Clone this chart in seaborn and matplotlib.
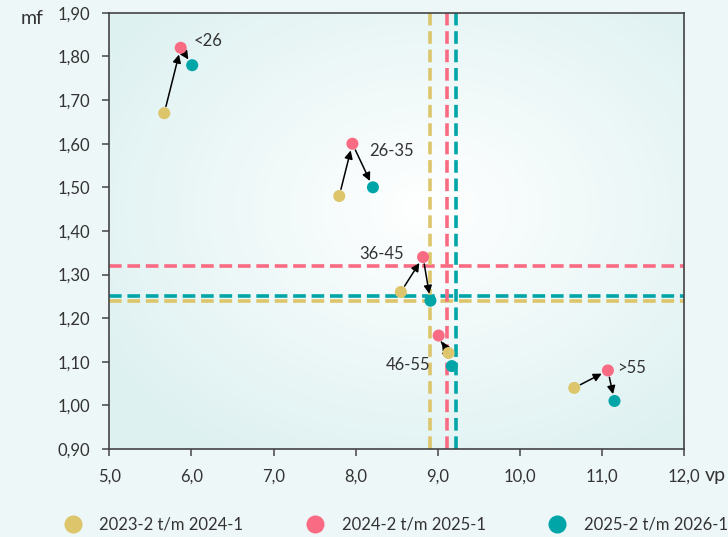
import numpy as np
import pandas as pd
import matplotlib.pyplot as plt
import seaborn as sns
from matplotlib.ticker import FuncFormatter
from matplotlib.lines import Line2D

# data
groups = ["<26", "26-35", "36-45", "46-55", ">55"]
periods = ["2023-2 t/m 2024-1", "2024-2 t/m 2025-1", "2025-2 t/m 2026-1"]
colors = ["#dcc56a", "#f96b82", "#00a5a8"]

vp_2324 = [5.67, 7.80, 8.55, 9.13, 10.66]
mf_2324 = [1.67, 1.48, 1.26, 1.12, 1.04]
vp_2425 = [5.87, 7.96, 8.82, 9.01, 11.07]
mf_2425 = [1.82, 1.60, 1.34, 1.16, 1.08]
vp_2526 = [6.01, 8.21, 8.91, 9.17, 11.15]
mf_2526 = [1.78, 1.50, 1.24, 1.09, 1.01]

# averages (dashed reference lines)
avg_vp = [8.90, 9.11, 9.22]
avg_mf = [1.24, 1.32, 1.25]

# label offsets in points from the middle point, and alignment
label_pos = [(9, 5), (12, -5), (-14, 2), (-6, -21), (6.5, 1.5)]
label_ha = ["left", "left", "right", "right", "left"]

sns.set_style("white")
plt.rcParams['font.family'] = ['Lato', 'DejaVu Sans']
plt.rcParams.update({
    "xtick.bottom": True, "ytick.left": True,
    "xtick.major.size": 5, "ytick.major.size": 5,
    "xtick.major.width": 1.1, "ytick.major.width": 1.1,
    "xtick.color": "#444444", "ytick.color": "#444444",
    "xtick.labelcolor": "#333333", "ytick.labelcolor": "#333333",
    "xtick.major.pad": 9, "ytick.major.pad": 9,
    "xtick.labelsize": 12, "ytick.labelsize": 12,
})

df = pd.DataFrame({
    "vp": vp_2324 + vp_2425 + vp_2526,
    "mf": mf_2324 + mf_2425 + mf_2526,
    "periode": [periods[0]] * 5 + [periods[1]] * 5 + [periods[2]] * 5,
})

bg = "#eef7f8"
fig = plt.figure(figsize=(7.28, 5.37), dpi=100, facecolor=bg)
ax = fig.add_axes([0.150, 0.164, 0.790, 0.812])

# radial gradient background inside the plot area
yy, xx = np.mgrid[0:1:200j, 0:1:200j]
r = np.sqrt(((xx - 0.55) / 0.7) ** 2 + ((yy - 0.45) / 0.7) ** 2)
r = np.clip(r / 0.95, 0, 1)
c_in = np.array([1.0, 1.0, 1.0])
c_out = np.array([0xde, 0xf1, 0xf1]) / 255
img = c_in[None, None, :] * (1 - r[..., None]) + c_out[None, None, :] * r[..., None]
ax.imshow(img, extent=[0, 1, 0, 1], transform=ax.transAxes, aspect="auto", zorder=0)

# dashed reference lines
for i in range(3):
    ax.axhline(avg_mf[i], color=colors[i], lw=2.6, ls=(0, (3.5, 1.6)), zorder=1)
for i in range(3):
    ax.axvline(avg_vp[i], color=colors[i], lw=2.6, ls=(0, (3.5, 1.6)), zorder=1)

# arrows
for i in range(5):
    ax.annotate("", xy=(vp_2425[i], mf_2425[i]), xytext=(vp_2324[i], mf_2324[i]),
                arrowprops=dict(arrowstyle="-|>", color="black", lw=1.1,
                                shrinkA=5, shrinkB=5, mutation_scale=12), zorder=3)
    ax.annotate("", xy=(vp_2526[i], mf_2526[i]), xytext=(vp_2425[i], mf_2425[i]),
                arrowprops=dict(arrowstyle="-|>", color="black", lw=1.1,
                                shrinkA=5, shrinkB=5, mutation_scale=12), zorder=3)

sns.scatterplot(data=df, x="vp", y="mf", hue="periode", palette=colors,
                s=75, edgecolor="none", legend=False, ax=ax, zorder=4)

for i, g in enumerate(groups):
    ax.annotate(g, (vp_2425[i], mf_2425[i]), xytext=label_pos[i], ha=label_ha[i],
                va="center", textcoords="offset points", fontsize=12,
                color="#333333", zorder=5)

ax.set_xlim(5.0, 12.0)
ax.set_ylim(0.90, 1.90)
ax.set_xticks(np.arange(5, 12.01, 1.0))
ax.set_yticks(np.arange(0.9, 1.901, 0.1))
ax.xaxis.set_major_formatter(FuncFormatter(lambda v, p: f"{v:.1f}".replace(".", ",")))
ax.yaxis.set_major_formatter(FuncFormatter(lambda v, p: f"{v:.2f}".replace(".", ",")))
for s in ax.spines.values():
    s.set_color("#444444")
    s.set_linewidth(1.2)
ax.set_xlabel("")
ax.set_ylabel("")

fig.text(0.028, 0.965, "mf", fontsize=14, color="#333333", ha="left", va="center")
fig.text(0.968, 1 - 476 / 537, "vp", fontsize=14, color="#333333", ha="left", va="center")

handles = [Line2D([], [], marker="o", ls="", markersize=13, color=c, markeredgewidth=0)
           for c in colors]
fig.legend(handles, periods, loc="center left", bbox_to_anchor=(56 / 728, 1 - 525 / 537),
           ncol=3, frameon=False, fontsize=12, columnspacing=3.3, handletextpad=0.6,
           borderpad=0, borderaxespad=0, labelcolor="#333333")

fig.savefig("out.png", dpi=100, facecolor=bg)
